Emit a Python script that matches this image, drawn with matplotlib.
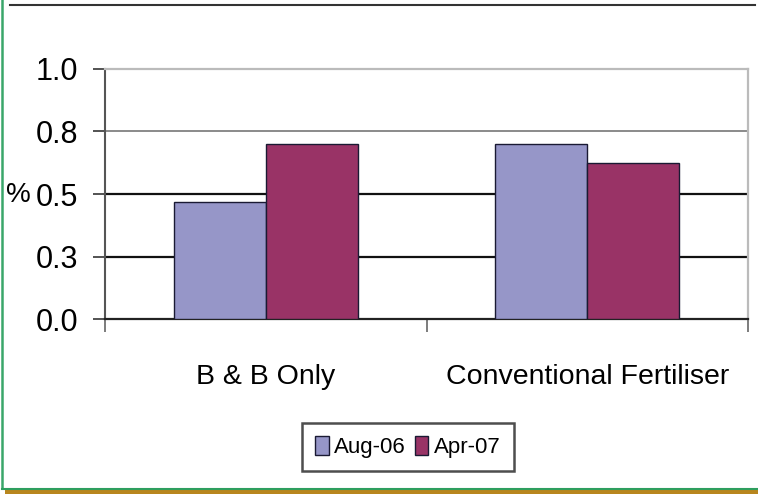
import matplotlib.pyplot as plt
from matplotlib.lines import Line2D
from matplotlib.patches import Rectangle
import numpy as np

categories = ["B & B Only", "Conventional Fertiliser"]
series_names = ["Aug-06", "Apr-07"]
aug06 = [0.47, 0.70]
apr07 = [0.70, 0.625]
yticks = [0.0, 0.25, 0.5, 0.75, 1.0]
ytick_labels = ["0.0", "0.3", "0.5", "0.8", "1.0"]

colors = ["#9696C8", "#993366"]
plt.rcParams['font.family'] = ["Liberation Sans", "DejaVu Sans"]

W, H = 758, 494
fig = plt.figure(figsize=(W / 100, H / 100), dpi=100)

# plot area in pixel terms
left, right, top, bottom = 105, 748, 69, 319
ax = fig.add_axes([left / W, 1 - bottom / H, (right - left) / W, (bottom - top) / H])

x = np.arange(len(categories))
w = 1 / 3.5
ax.bar(x - w / 2, aug06, w, color=colors[0], edgecolor="#1a1a33", linewidth=1.0,
       label=series_names[0], zorder=3)
ax.bar(x + w / 2, apr07, w, color=colors[1], edgecolor="#1a1a33", linewidth=1.0,
       label=series_names[1], zorder=3)

ax.set_xlim(-0.5, 1.5)
ax.set_ylim(0, 1.0)

# horizontal gridlines
ax.axhline(0.25, color="#111111", lw=1.6, zorder=1)
ax.axhline(0.5, color="#111111", lw=1.6, zorder=1)
ax.axhline(0.75, color="#777777", lw=1.2, zorder=1)

for s in ["top", "right"]:
    ax.spines[s].set_color("#bbbbbb")
    ax.spines[s].set_linewidth(1.6)
ax.spines["left"].set_color("#555555")
ax.spines["left"].set_linewidth(1.5)
ax.spines["bottom"].set_color("#222222")
ax.spines["bottom"].set_linewidth(1.6)

ax.set_yticks(yticks)
ax.set_yticklabels(ytick_labels, fontsize=22, color="#000000")
ax.tick_params(axis="y", length=9, width=1.3, color="#444444", pad=10)

ax.set_xticks([-0.5, 0.5, 1.5])
ax.set_xticklabels([])
ax.tick_params(axis="x", direction="out", length=9, width=1.2, color="#666666")
for i, c in enumerate(categories):
    ax.text(x[i], -0.23, c, ha="center", va="center", fontsize=20.5, color="#000000",
            transform=ax.transData, clip_on=False)

fig.text(18 / W, 1 - 195 / H, "%", ha="center", va="center", fontsize=20, color="#000000")

leg = ax.legend(loc="center", bbox_to_anchor=((408 - left) / (right - left), (bottom - 447) / (bottom - top)),
                ncol=2, fontsize=16, frameon=True, fancybox=False, handlelength=0.6,
                handleheight=0.9, handletextpad=0.25, columnspacing=0.4, borderpad=0.6)
leg.get_frame().set_edgecolor("#222222")
leg.get_frame().set_linewidth(1.8)

# frame decorations
fig.add_artist(Line2D([10 / W, 755 / W], [1 - 5 / H, 1 - 5 / H], color="#333333", lw=1.5))
fig.add_artist(Line2D([2 / W, 2 / W], [1 - 488 / H, 1.0], color="#3aa66a", lw=1.8))
fig.add_artist(Line2D([2 / W, 1.0], [1 - 488.5 / H, 1 - 488.5 / H], color="#2e9e5e", lw=1.5))
fig.add_artist(Rectangle((5 / W, 0), 1 - 5 / W, 4.5 / H, transform=fig.transFigure,
                         color="#b8861e", lw=0))

fig.savefig("out.png", dpi=100)
